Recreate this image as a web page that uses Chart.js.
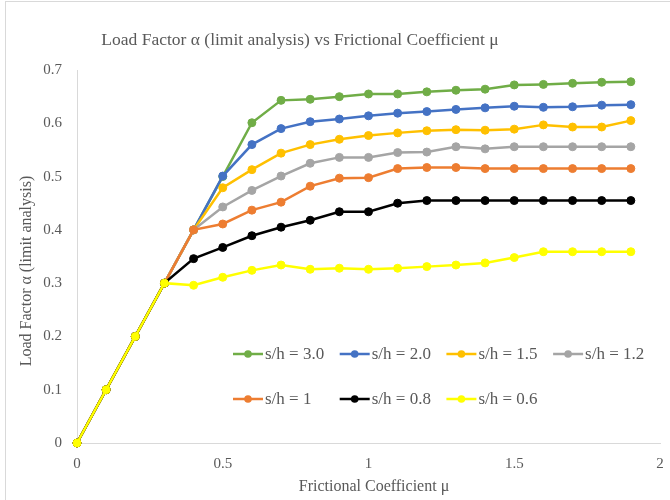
<!DOCTYPE html>
<html>
<head>
<meta charset="utf-8">
<script src="https://cdn.jsdelivr.net/npm/chart.js@4.4.1/dist/chart.umd.min.js"></script>
<style>
  html, body { margin: 0; padding: 0; background: #fff; }
  #wrap { width: 670px; height: 500px; position: relative; }
</style>
</head>
<body>
<div id="wrap"><canvas id="myChart" width="670" height="500"></canvas></div>
<script>
// frictional coefficient mu
const mu = [0, 0.1, 0.2, 0.3, 0.4, 0.5, 0.6, 0.7, 0.8, 0.9, 1.0, 1.1, 1.2, 1.3, 1.4, 1.5, 1.6, 1.7, 1.8, 1.9];

// load factor for each s/h
const sh30 = [0, 0.1, 0.2, 0.3, 0.4, 0.5, 0.601, 0.643, 0.645, 0.650, 0.655, 0.655, 0.659, 0.662, 0.664, 0.672, 0.673, 0.675, 0.677, 0.678];
const sh20 = [0, 0.1, 0.2, 0.3, 0.4, 0.501, 0.560, 0.590, 0.603, 0.608, 0.614, 0.619, 0.622, 0.626, 0.629, 0.632, 0.630, 0.631, 0.634, 0.635];
const sh15 = [0, 0.1, 0.2, 0.3, 0.4, 0.479, 0.513, 0.544, 0.560, 0.570, 0.577, 0.582, 0.586, 0.588, 0.587, 0.589, 0.597, 0.593, 0.593, 0.605];
const sh12 = [0, 0.1, 0.2, 0.3, 0.4, 0.443, 0.474, 0.501, 0.525, 0.536, 0.536, 0.545, 0.546, 0.556, 0.552, 0.556, 0.556, 0.556, 0.556, 0.556];
const sh10 = [0, 0.1, 0.2, 0.3, 0.4, 0.411, 0.437, 0.452, 0.482, 0.497, 0.498, 0.515, 0.517, 0.517, 0.515, 0.515, 0.515, 0.515, 0.515, 0.515];
const sh08 = [0, 0.1, 0.2, 0.3, 0.346, 0.367, 0.389, 0.405, 0.418, 0.434, 0.434, 0.450, 0.455, 0.455, 0.455, 0.455, 0.455, 0.455, 0.455, 0.455];
const sh06 = [0, 0.1, 0.2, 0.3, 0.296, 0.311, 0.324, 0.334, 0.326, 0.328, 0.326, 0.328, 0.331, 0.334, 0.338, 0.348, 0.359, 0.359, 0.359, 0.359];

const seriesLabels = ['s/h = 3.0', 's/h = 2.0', 's/h = 1.5', 's/h = 1.2', 's/h = 1', 's/h = 0.8', 's/h = 0.6'];
const seriesValues = [sh30, sh20, sh15, sh12, sh10, sh08, sh06];
const seriesColors = ['#70AD47', '#4472C4', '#FFC000', '#A5A5A5', '#ED7D31', '#000000', '#FFFF00'];

const chartTitle = 'Load Factor α (limit analysis) vs Frictional Coefficient μ';
const xTitle = 'Frictional Coefficient μ';
const yTitle = 'Load Factor α (limit analysis)';

const textColor = '#595959';
const serif = '"Liberation Serif", "Times New Roman", serif';

// title, axis titles, legend and frame drawn by hand
const excelLook = {
  id: 'excelLook',
  beforeDraw(chart) {
    const ctx = chart.ctx;
    ctx.save();
    ctx.strokeStyle = '#d9d9d9';
    ctx.lineWidth = 1;
    ctx.strokeRect(5.5, 1.5, 700, 600);
    ctx.restore();
  },
  afterDraw(chart) {
    const ctx = chart.ctx;
    ctx.save();
    ctx.fillStyle = textColor;
    ctx.textBaseline = 'middle';
    ctx.textAlign = 'center';
    ctx.font = '17.5px ' + serif;
    ctx.fillText(chartTitle, 300, 40);
    ctx.font = '16px ' + serif;
    ctx.fillText(xTitle, 374, 487);
    ctx.translate(27, 271);
    ctx.rotate(-Math.PI / 2);
    ctx.fillText(yTitle, 0, 0);
    ctx.restore();

    // legend, 4 per row
    ctx.save();
    ctx.font = '17px ' + serif;
    ctx.textBaseline = 'middle';
    ctx.textAlign = 'left';
    chart.data.datasets.forEach((ds, i) => {
      const x = 233 + (i % 4) * 106.7;
      const y = 354 + Math.floor(i / 4) * 45;
      ctx.strokeStyle = ds.borderColor;
      ctx.lineWidth = 2.5;
      ctx.beginPath();
      ctx.moveTo(x, y);
      ctx.lineTo(x + 30, y);
      ctx.stroke();
      ctx.fillStyle = ds.borderColor;
      ctx.beginPath();
      ctx.arc(x + 15, y, 3.8, 0, Math.PI * 2);
      ctx.fill();
      ctx.fillStyle = textColor;
      ctx.fillText(ds.label, x + 32, y + 1);
    });
    ctx.restore();
  }
};

const datasets = seriesLabels.map((label, i) => ({
  label: label,
  data: mu.map((m, j) => ({ x: m, y: seriesValues[i][j] })),
  borderColor: seriesColors[i],
  backgroundColor: seriesColors[i],
  pointBackgroundColor: seriesColors[i],
  pointBorderColor: seriesColors[i],
  borderWidth: 2.5,
  pointRadius: 4,
  pointBorderWidth: 1,
  order: seriesLabels.length - i,
  clip: false
}));

const tickText = (v) => String(Math.round(v * 10) / 10);

new Chart(document.getElementById('myChart'), {
  type: 'line',
  data: { datasets: datasets },
  plugins: [excelLook],
  options: {
    responsive: false,
    animation: false,
    layout: { padding: { left: 0, top: 70, right: 10, bottom: 0 } },
    plugins: {
      legend: { display: false },
      title: { display: false },
      tooltip: { enabled: false }
    },
    scales: {
      x: {
        type: 'linear',
        min: 0,
        max: 2,
        ticks: {
          stepSize: 0.5,
          padding: 12,
          color: textColor,
          font: { family: serif, size: 15 },
          maxRotation: 0,
          callback: tickText
        },
        grid: { display: false, drawTicks: false },
        border: { display: true, color: '#d9d9d9', width: 1 },
        afterFit(scale) {
          scale.height = 57;
          scale.paddingLeft = 0;
          scale.paddingRight = 0;
        }
      },
      y: {
        min: 0,
        max: 0.7,
        ticks: {
          stepSize: 0.1,
          padding: 15,
          color: textColor,
          font: { family: serif, size: 15 },
          callback: (v) => v === 0 ? '0' : v.toFixed(1)
        },
        grid: { display: false, drawTicks: false },
        border: { display: true, color: '#d9d9d9', width: 1 },
        afterFit(scale) { scale.width = 77; }
      }
    }
  }
});
</script>
</body>
</html>
